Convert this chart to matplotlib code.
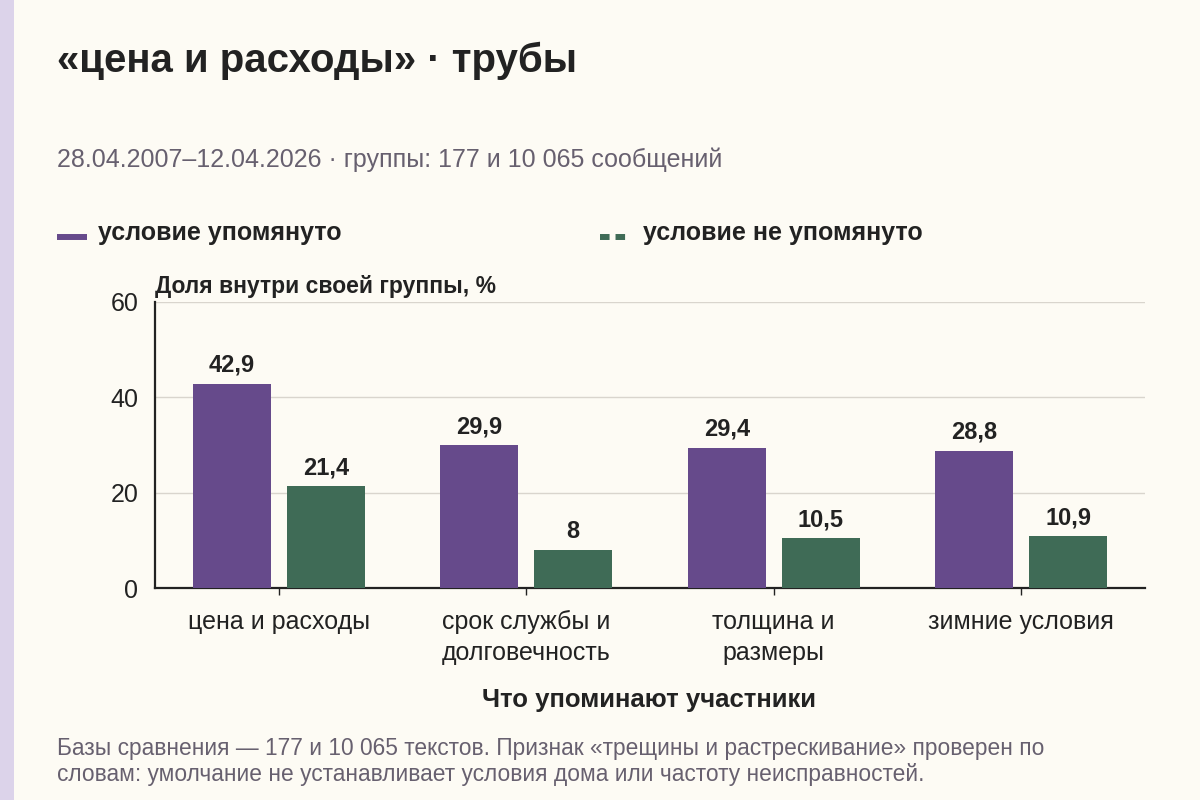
import numpy as np
import matplotlib.pyplot as plt
from matplotlib.lines import Line2D
from matplotlib.patches import Rectangle

plt.rcParams['font.family'] = ['Liberation Sans', 'DejaVu Sans']

# Data
categories = ['цена и расходы', 'срок службы и\nдолговечность', 'толщина и\nразмеры', 'зимние условия']
mentioned = [42.9, 29.9, 29.4, 28.8]
not_mentioned = [21.4, 8, 10.5, 10.9]
labels_mentioned = ['42,9', '29,9', '29,4', '28,8']
labels_not = ['21,4', '8', '10,5', '10,9']

BG = '#fdfbf4'
PURPLE = '#664a8b'
GREEN = '#3f6b56'
DARK = '#222222'
GRAY = '#67606f'

fig = plt.figure(figsize=(12, 8), dpi=100, facecolor=BG)

# left accent stripe
fig.add_artist(Rectangle((0, 0), 14 / 1200, 1, transform=fig.transFigure,
                         facecolor='#dcd3ea', edgecolor='none'))

fig.text(57 / 1200, 1 - 61 / 800, '«цена и расходы» · трубы', fontsize=29,
         fontweight='bold', color=DARK, va='center')
fig.text(57 / 1200, 1 - 160 / 800, '28.04.2007–12.04.2026 · группы: 177 и 10 065 сообщений',
         fontsize=18, color=GRAY, va='center')

# legend
fig.add_artist(Line2D([57 / 1200, 87 / 1200], [1 - 237 / 800] * 2, transform=fig.transFigure,
                      color=PURPLE, lw=4.3, solid_capstyle='butt'))
fig.text(98 / 1200, 1 - 233 / 800, 'условие упомянуто', fontsize=18, fontweight='bold',
         color=DARK, va='center')
fig.add_artist(Line2D([600 / 1200, 631 / 1200], [1 - 237 / 800] * 2, transform=fig.transFigure,
                      color=GREEN, lw=4.3, dashes=(1.6, 1.0), dash_capstyle='butt'))
fig.text(643 / 1200, 1 - 233 / 800, 'условие не упомянуто', fontsize=18, fontweight='bold',
         color=DARK, va='center')

ax = fig.add_axes([155 / 1200, 212 / 800, 990 / 1200, 286 / 800])
ax.set_facecolor(BG)

x = np.arange(len(categories))
w = 0.315
off = 0.19
b1 = ax.bar(x - off, mentioned, w, color=PURPLE, zorder=3)
b2 = ax.bar(x + off, not_mentioned, w, color=GREEN, zorder=3)

for bars, labs in ((b1, labels_mentioned), (b2, labels_not)):
    for rect, lab in zip(bars, labs):
        ax.annotate(lab, (rect.get_x() + rect.get_width() / 2, rect.get_height()),
                    xytext=(0, 5), textcoords='offset points', ha='center', va='bottom',
                    fontsize=17, fontweight='bold', color=DARK)

ax.set_xlim(-0.5, 3.5)
ax.set_ylim(0, 60)
ax.set_yticks([0, 20, 40, 60])
ax.set_xticks(x)
ax.set_xticklabels(categories, fontsize=18, color=DARK, linespacing=1.35)
ax.tick_params(axis='y', length=0, labelsize=18, labelcolor=DARK, pad=12)
ax.tick_params(axis='x', length=5, width=1, color=DARK, pad=11)

ax.grid(axis='y', color='#d9d5cd', lw=1, zorder=0)
for s in ('top', 'right'):
    ax.spines[s].set_visible(False)
for s in ('left', 'bottom'):
    ax.spines[s].set_color(DARK)
    ax.spines[s].set_linewidth(1.6)

fig.text(155 / 1200, 1 - 286 / 800, 'Доля внутри своей группы, %', fontsize=16.5,
         fontweight='bold', color=DARK, va='center')
fig.text(649 / 1200, 1 - 700 / 800, 'Что упоминают участники', fontsize=18.5,
         fontweight='bold', color=DARK, ha='center', va='center')

fig.text(57 / 1200, 1 - 749 / 800,
         'Базы сравнения — 177 и 10 065 текстов. Признак «трещины и растрескивание» проверен по',
         fontsize=16.4, color=GRAY, va='center')
fig.text(57 / 1200, 1 - 775 / 800,
         'словам: умолчание не устанавливает условия дома или частоту неисправностей.',
         fontsize=16.4, color=GRAY, va='center')

fig.savefig('out.png', dpi=100, facecolor=BG)
